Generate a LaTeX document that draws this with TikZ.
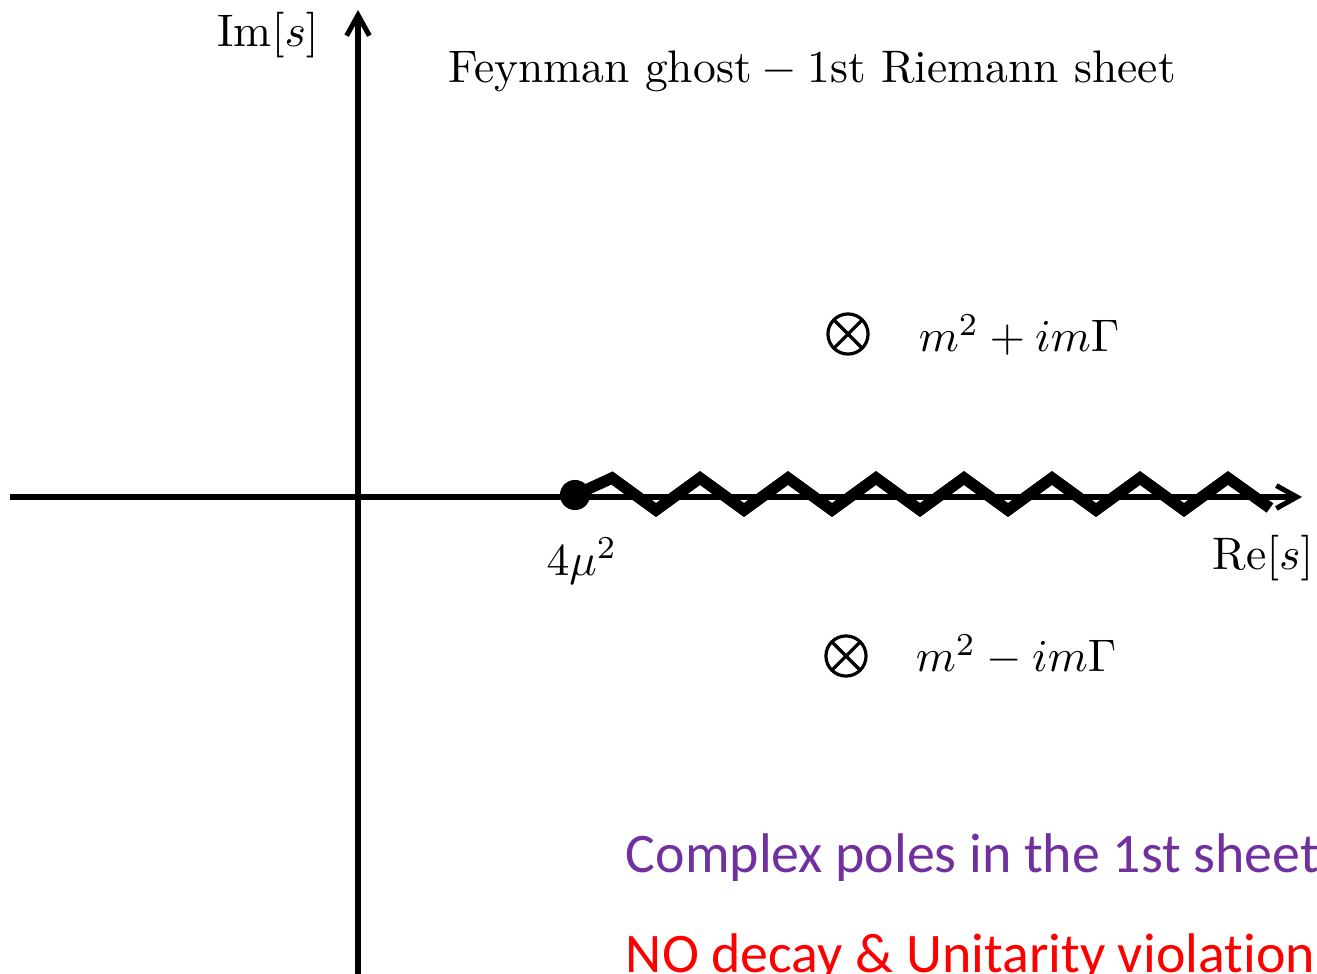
\documentclass[tikz,border=0pt]{standalone}
\usepackage{amsmath}
\usepackage{fontspec}
\newfontfamily\slidefont[Ligatures=NoCommon]{Carlito}
\usetikzlibrary{
  arrows.meta % For arrow tips
}
\definecolor{polepurple}{RGB}{112,48,160}
\definecolor{slidered}{RGB}{255,0,0}

\begin{document}
\begin{tikzpicture}[
      x=0.2193pt, y=-0.2193pt, % 1 Einheit = 1 Pixel
      >={Straight Barb[length=4.5pt, width=5pt]}, % Default arrow tip
      axis/.style={line width=1.1pt, ->}, % Style for the axes
      cut/.style={line width=2.5pt}, % Style for the branch cut
      threshold/.style={circle, fill, inner sep=0pt, minimum size=6.6pt},
      pole/.style={circle, draw, line width=0.7pt, inner sep=0pt, minimum size=8.8pt,
        path picture={\draw[line width=0.7pt]
          (path picture bounding box.north west) -- (path picture bounding box.south east)
          (path picture bounding box.north east) -- (path picture bounding box.south west);}},
      lbl/.style={inner sep=0pt},
      slidetext/.style={inner sep=0pt, anchor=base west, font=\slidefont\fontsize{12.25pt}{14pt}\selectfont},
    ]

    % Rahmen
    \useasboundingbox (0,0) rectangle (1317,974);

    % Koordinaten der Achsen
    \coordinate (xl) at (10,497);
    \coordinate (xr) at (1302,497);
    \coordinate (yb) at (358,990);
    \coordinate (yt) at (358,10);

    % Achsen
    \draw[axis] (xl) -- (xr);
    \draw[axis] (yb) -- (yt);
    \node[lbl] (imlabel) at (268,35) {$\mathrm{Im}[s]$};
    \node[lbl] (relabel) at (1263,558) {$\mathrm{Re}[s]$};

    % Titel
    \node[lbl] (title) at (812,71) {$\text{Feynman ghost} - \text{1st Riemann sheet}$};

    % Schwelle und Schnitt
    \node[threshold] (thr) at (575,495) {};
    \node[lbl] (thrlabel) at (582,561) {$4\mu^2$};
    \draw[cut] (thr.center) -- (612,478)
      \foreach \k in {0,...,6} { -- ++(44,32) -- ++(44,-32) } -- ++(42,30);

    % Pole
    \node[pole] (pup) at (848,334) {};
    \node[lbl, anchor=west] (puplabel) at (918,335) {$m^2 + im\Gamma$};
    \node[pole] (pdown) at (846,656) {};
    \node[lbl, anchor=west] (pdownlabel) at (915,655) {$m^2 - im\Gamma$};

    % Bemerkungen
    \node[slidetext, text=polepurple] (note1) at (625,872) {Complex poles in the 1st sheet};
    \node[slidetext, text=slidered] (note2) at (625,972) {NO decay \& Unitarity violation};
  \end{tikzpicture}
\end{document}
